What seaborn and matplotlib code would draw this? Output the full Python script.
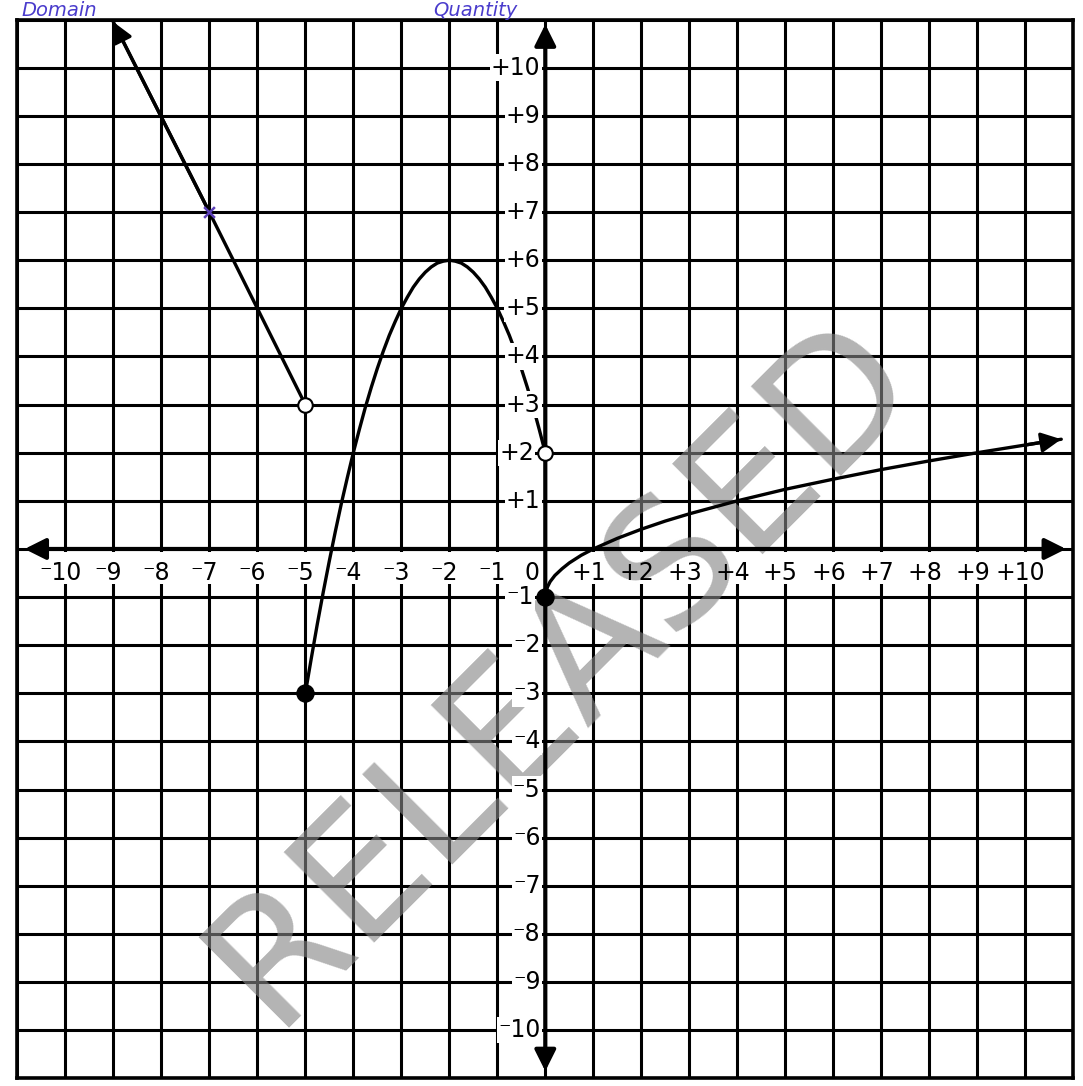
import matplotlib
matplotlib.use("Agg")
import matplotlib.pyplot as plt
from matplotlib.patches import Rectangle
import pandas as pd
import seaborn as sns

# ---- data ----
grid_values = list(range(-11, 12))
x_tick_values = [-10, -9, -8, -7, -6, -5, -4, -3, -2, -1, 1, 2, 3, 4, 5, 6, 7, 8, 9, 10]
x_tick_labels = ["\u207b10", "\u207b9", "\u207b8", "\u207b7", "\u207b6", "\u207b5", "\u207b4",
                 "\u207b3", "\u207b2", "\u207b1", "+1", "+2", "+3", "+4", "+5", "+6", "+7",
                 "+8", "+9", "+10"]
y_tick_values = [10, 9, 8, 7, 6, 5, 4, 3, 2, 1, -1, -2, -3, -4, -5, -6, -7, -8, -9, -10]
y_tick_labels = ["+10", "+9", "+8", "+7", "+6", "+5", "+4", "+3", "+2", "+1",
                 "\u207b1", "\u207b2", "\u207b3", "\u207b4", "\u207b5", "\u207b6",
                 "\u207b7", "\u207b8", "\u207b9", "\u207b10"]

# left piece: ray from open circle (-5, 3) through (-7, 7)
ray_x = [-5, -7, -9.0]
ray_y = [3, 7, 10.95]

# middle piece: parabola from (-5,-3) to (0,2), vertex (-2,6)
parab_x = [-5, -4.875, -4.75, -4.625, -4.5, -4.375, -4.25, -4.125, -4, -3.875,
           -3.75, -3.625, -3.5, -3.375, -3.25, -3.125, -3, -2.875, -2.75, -2.625,
           -2.5, -2.375, -2.25, -2.125, -2, -1.875, -1.75, -1.625, -1.5, -1.375,
           -1.25, -1.125, -1, -0.875, -0.75, -0.625, -0.5, -0.375, -0.25, -0.125, 0]
parab_y = [-3, -2.27, -1.56, -0.89, -0.25, 0.36, 0.94, 1.48, 2, 2.48,
           2.94, 3.36, 3.75, 4.11, 4.44, 4.73, 5, 5.23, 5.44, 5.61,
           5.75, 5.86, 5.94, 5.98, 6, 5.98, 5.94, 5.86, 5.75, 5.61,
           5.44, 5.23, 5, 4.73, 4.44, 4.11, 3.75, 3.36, 2.94, 2.48, 2]

# right piece: root curve from (0,-1) through (1,0), (4,1), (9,2)
root_x = [0, 0.01, 0.05, 0.1, 0.2, 0.35, 0.5, 0.75, 1, 1.5, 2, 2.5, 3, 4,
          5, 6, 7, 8, 9, 10, 10.75]
root_y = [-1, -0.9, -0.78, -0.68, -0.55, -0.41, -0.29, -0.13, 0, 0.22, 0.41,
          0.58, 0.73, 1, 1.24, 1.45, 1.65, 1.83, 2, 2.16, 2.28]

closed_x = [-5, 0]
closed_y = [-3, -1]
open_x = [-5, 0]
open_y = [3, 2]
mark_x = [-7]
mark_y = [7]

stamp_text = "RELEASED"
heading_texts = ["Domain", "Quantity"]

# ---- figure ----
sns.set_theme(style="white")
plt.rcParams["font.family"] = ["DejaVu Sans"]

fig = plt.figure(figsize=(10.83, 10.86), dpi=100)
ax = fig.add_axes([0.016, 0.007, 0.975, 0.975])
ax.set_xlim(-11, 11)
ax.set_ylim(-11, 11)
ax.set_xticks(grid_values)
ax.set_yticks(grid_values)
ax.tick_params(labelbottom=False, labelleft=False, length=0)
ax.set_axisbelow(True)
ax.grid(True, color="black", linewidth=2.2)
for s in ax.spines.values():
    s.set_color("black")
    s.set_linewidth(2.6)
ax.set_xlabel("")
ax.set_ylabel("")

# white band under the x labels
ax.add_patch(Rectangle((-10.93, -0.72), 21.86, 0.66, facecolor="white",
                       edgecolor="none", zorder=1))

# watermark stamp
ax.text(0.35, -2.5, stamp_text, rotation=45, ha="center", va="center",
        fontsize=126, color="#858585", alpha=0.62, zorder=1.5,
        rotation_mode="anchor")

# axes with arrows
arrow_kw = dict(arrowstyle="<|-|>", color="black", lw=3, mutation_scale=32,
                shrinkA=0, shrinkB=0)
ax.annotate("", xy=(10.85, 0), xytext=(-10.85, 0), arrowprops=arrow_kw, zorder=4)
ax.annotate("", xy=(0, 10.9), xytext=(0, -10.85), arrowprops=arrow_kw, zorder=4)

# curves
ray_df = pd.DataFrame({"x": ray_x, "y": ray_y})
parab_df = pd.DataFrame({"x": parab_x, "y": parab_y})
root_df = pd.DataFrame({"x": root_x, "y": root_y})
for df in (ray_df, parab_df, root_df):
    sns.lineplot(data=df, x="x", y="y", sort=False, estimator=None, color="black",
                 linewidth=2.4, ax=ax, zorder=5)

head_kw = dict(arrowstyle="-|>", color="black", lw=2.4, mutation_scale=30,
               shrinkA=0, shrinkB=0)
ax.annotate("", xy=(ray_x[-1], ray_y[-1]), xytext=(ray_x[-2], ray_y[-2]),
            arrowprops=head_kw, zorder=5, annotation_clip=False)
ax.annotate("", xy=(root_x[-1], root_y[-1]), xytext=(root_x[-2], root_y[-2]),
            arrowprops=head_kw, zorder=5, annotation_clip=False)

# endpoints
sns.scatterplot(x=closed_x, y=closed_y, s=150, color="black", edgecolor="black",
                ax=ax, zorder=7)
sns.scatterplot(x=open_x, y=open_y, s=110, facecolor="white", edgecolor="black",
                linewidth=1.5, ax=ax, zorder=7)
sns.scatterplot(x=mark_x, y=mark_y, s=60, marker="x", color="#5b3fb8",
                linewidth=1.8, ax=ax, zorder=7)

# tick labels as text
for v, lab in zip(x_tick_values, x_tick_labels):
    ax.text(v - 0.1, -0.5, lab, ha="center", va="center", fontsize=17,
            color="black", zorder=6)
ax.text(-0.28, -0.5, "0", ha="center", va="center", fontsize=17, color="black", zorder=6)
for v, lab in zip(y_tick_values, y_tick_labels):
    xpos = -0.24 if v in (2, -1) else -0.1
    ax.text(xpos, v, lab, ha="right", va="center", fontsize=17, color="black", zorder=6,
            bbox=dict(facecolor="white", edgecolor="none", pad=0.8))

# handwritten heading at the top of the scan
fig.text(0.02, 0.9995, heading_texts[0], fontsize=14, style="italic", color="#4a3ccc",
         ha="left", va="top")
fig.text(0.40, 0.9995, heading_texts[1], fontsize=14, style="italic", color="#4a3ccc",
         ha="left", va="top")

fig.savefig("out.png", dpi=100)
